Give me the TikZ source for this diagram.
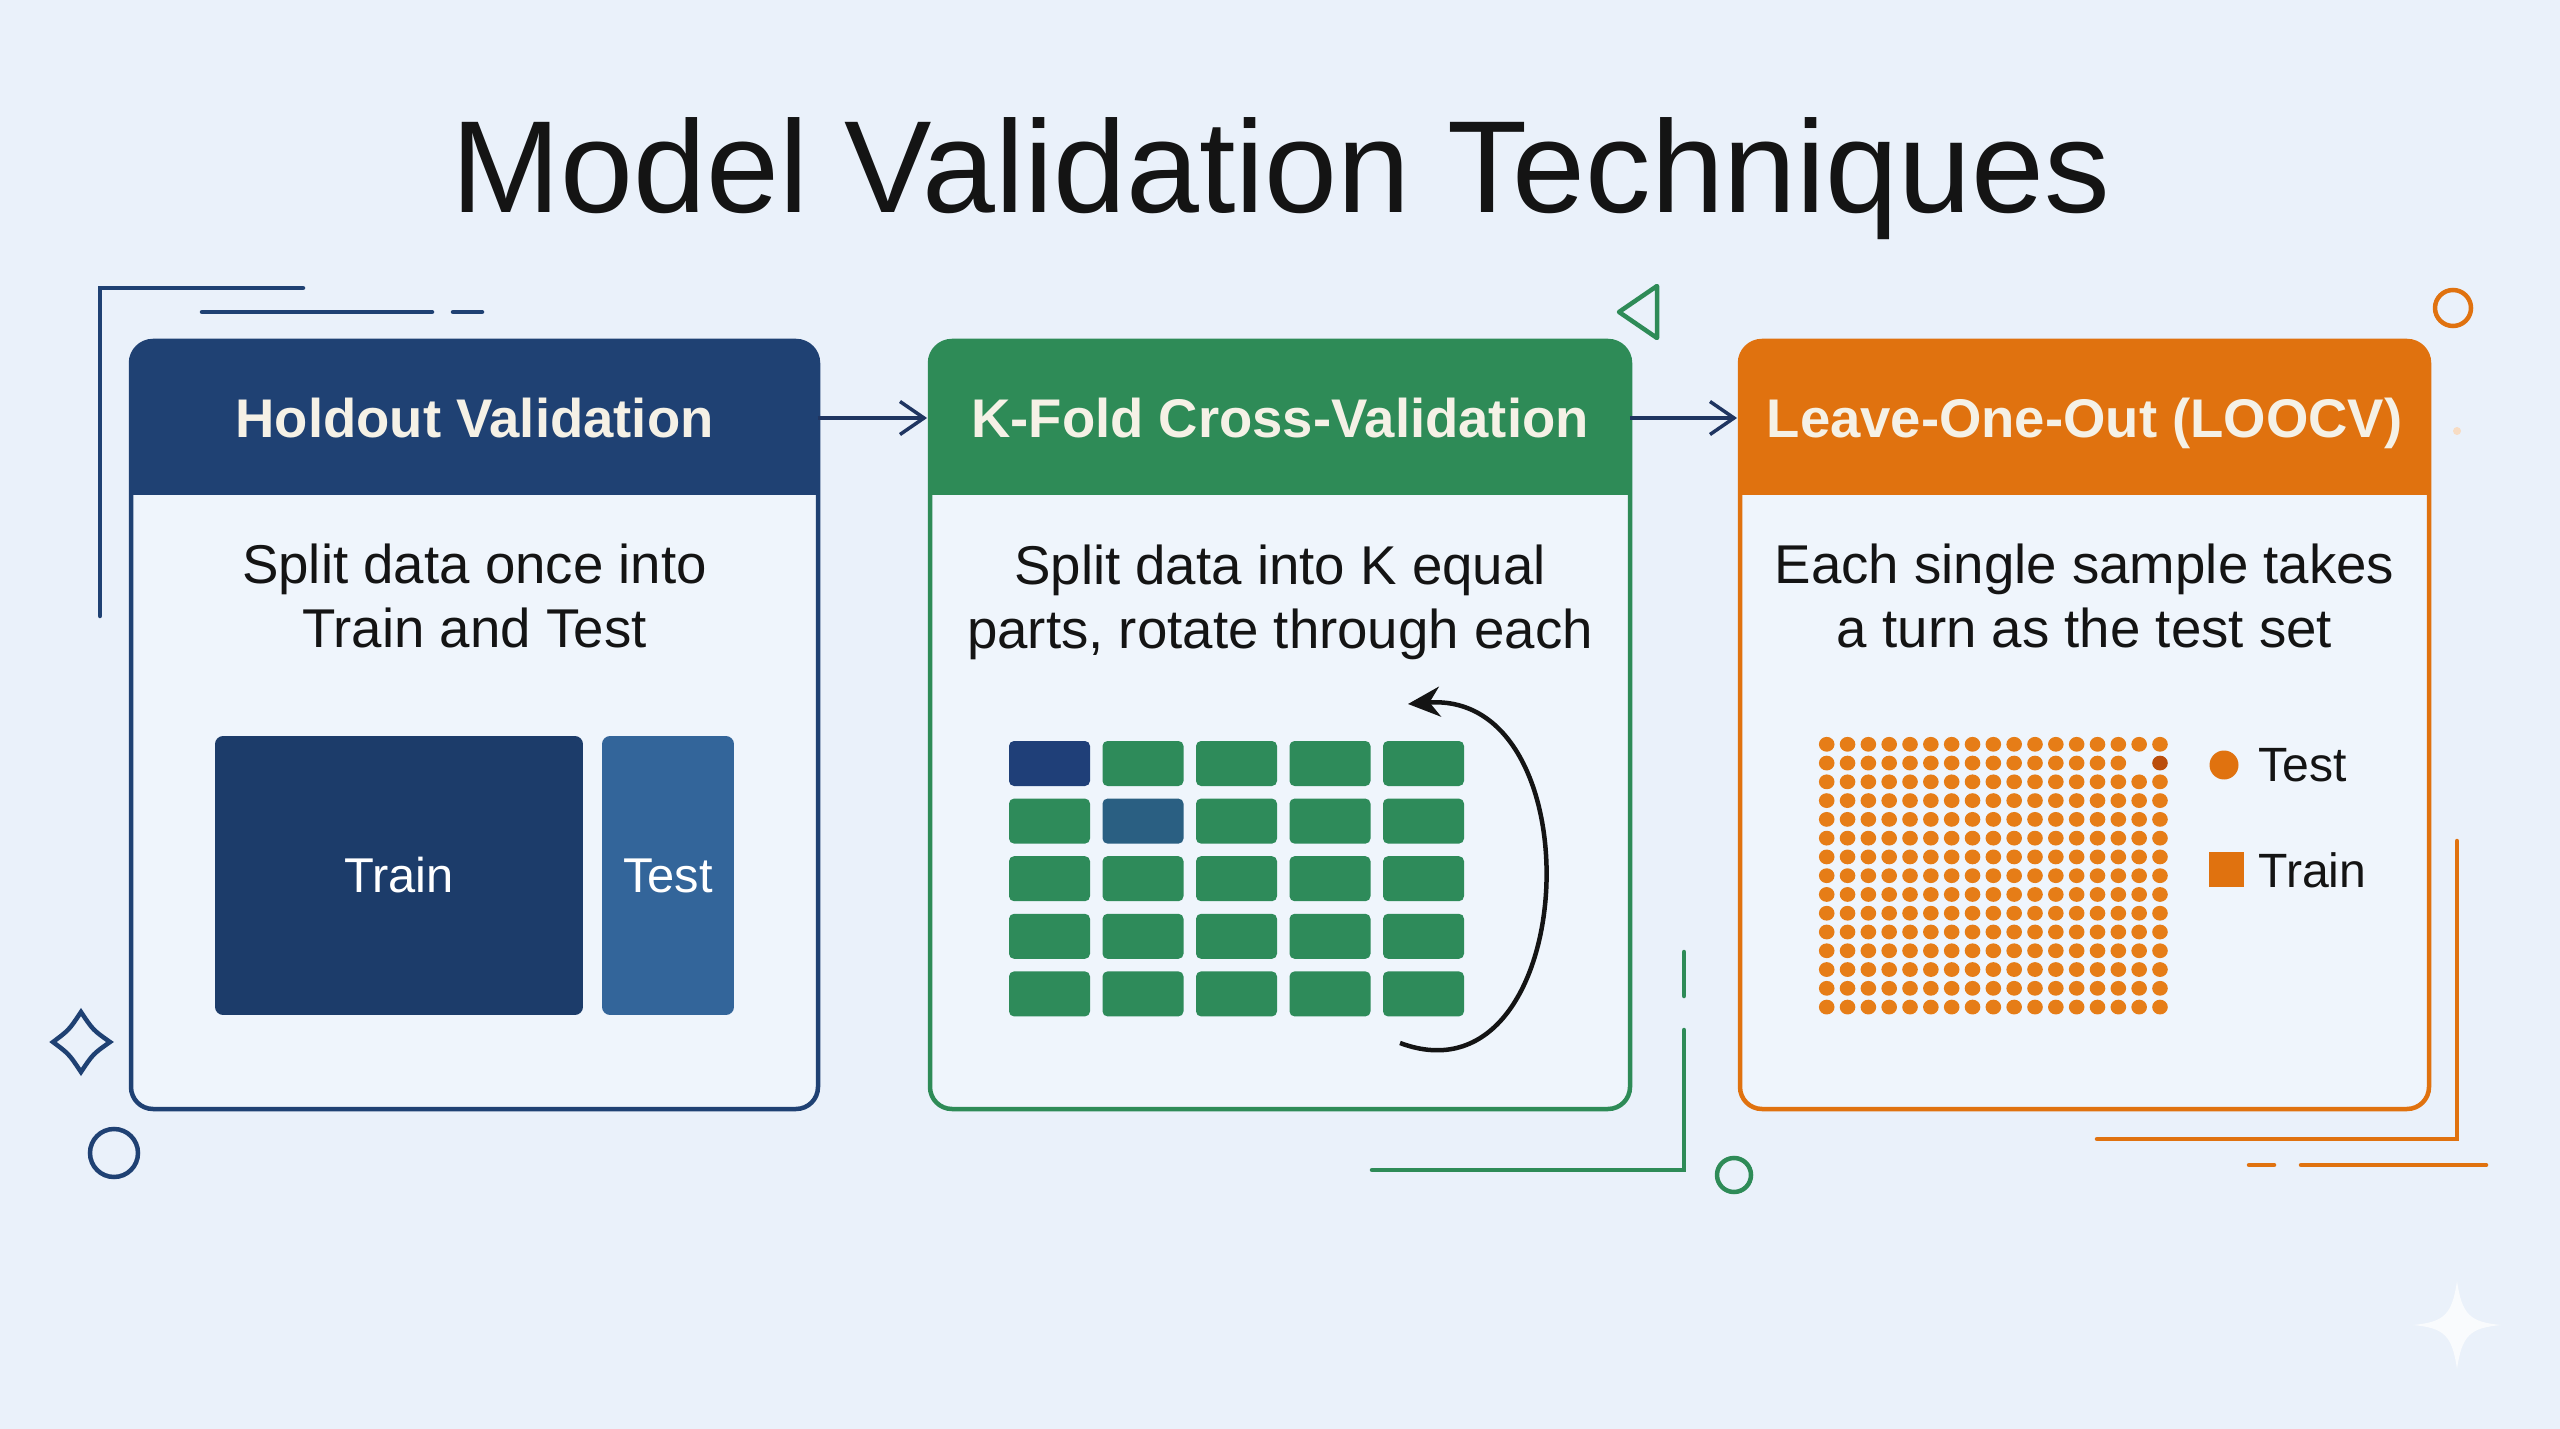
\documentclass[tikz,border=0pt]{standalone}
\usepackage{fontspec}
\setmainfont{Liberation Sans}
\usetikzlibrary{arrows.meta}
\definecolor{bg}{HTML}{EAF1FA}
\definecolor{paper}{HTML}{EFF5FC}
\definecolor{navy}{HTML}{1F4173}
\definecolor{trainblue}{HTML}{1C3C6A}
\definecolor{testblue}{HTML}{33659A}
\definecolor{kgreen}{HTML}{2E8B57}
\definecolor{cellgreen}{HTML}{2E8B5A}
\definecolor{foldnavy}{HTML}{1F3F78}
\definecolor{foldteal}{HTML}{2A5F82}
\definecolor{loorange}{HTML}{E0720F}
\definecolor{dotorange}{HTML}{E67D17}
\definecolor{dotdark}{HTML}{BA4D0C}
\definecolor{headtxt}{HTML}{F5F1E6}
\definecolor{ink}{HTML}{141414}
\definecolor{arrowc}{HTML}{1F3561}

\begin{document}
\begin{tikzpicture}[x=0.02cm, y=-0.02cm,
    headbar/.style={fill=#1, text=headtxt, inner sep=0, outer sep=0, minimum height=3.08cm,
      text height=0.78cm, text depth=0cm, font=\bfseries\fontsize{31}{36}\selectfont},
    bodytext/.style={text=ink, align=center, inner sep=0, font=\fontsize{31.1}{36.3}\selectfont},
    panelframe/.style={draw=#1, line width=0.09cm, rounded corners=0.44cm},
    blk/.style={rounded corners=0.16cm, text=white, inner sep=0, minimum height=5.58cm,
      font=\fontsize{27.8}{33}\selectfont},
    legtext/.style={anchor=west, inner sep=0, text=ink, font=\fontsize{27.4}{33}\selectfont},
    link/.style={draw=arrowc, line width=0.07cm, -{Straight Barb[length=0.48cm,width=0.66cm]}, shorten >=0.06cm},
    deco/.style={line width=0.09cm, line cap=round}]
    \fill[bg] (0,0) rectangle (2560,1429);
    \useasboundingbox (0,0) rectangle (2560,1429);

    \node[anchor=base, text=ink, font=\fontsize{74.6}{80}\selectfont] (title) at (1281,213) {Model Validation Techniques};

    \fill[paper, rounded corners=0.44cm] (131,341) rectangle (818,1109);
    \begin{scope}
        \clip[rounded corners=0.44cm] (131,341) rectangle (818,1109);
        \node[headbar=navy, minimum width=13.74cm] (hold) at (474.5,418) {Holdout Validation};
    \end{scope}
    \draw[panelframe=navy] (131,341) rectangle (818,1109);
    \node[bodytext] (holdtxt) at (474.5,596) {Split data once into\\Train and Test};
    \node[blk, fill=trainblue, minimum width=7.36cm] (train) at (399,875.5) {Train};
    \node[blk, fill=testblue, minimum width=2.64cm] (test) at (668,875.5) {Test};

    \fill[paper, rounded corners=0.44cm] (930,341) rectangle (1630,1109);
    \begin{scope}
        \clip[rounded corners=0.44cm] (930,341) rectangle (1630,1109);
        \node[headbar=kgreen, minimum width=14cm] (kfold) at (1280,418) {K-Fold Cross-Validation};
    \end{scope}
    \draw[panelframe=kgreen] (930,341) rectangle (1630,1109);
    \node[bodytext] (kfoldtxt) at (1280,602) {Split data into K equal\\parts, rotate through each};
    \foreach \r in {0,...,4}
        \foreach \c in {0,...,4} {
            \pgfmathtruncatemacro\k{\r*5+\c}
            \ifnum\k=0 \def\fc{foldnavy}\else\ifnum\k=6 \def\fc{foldteal}\else\def\fc{cellgreen}\fi\fi
            \fill[\fc, rounded corners=0.1cm] (1009+93.5*\c,741+57.6*\r) rectangle ++(81,45);
        }
    \draw[ink, line width=0.09cm, -{Stealth[length=0.64cm,width=0.6cm]}] (1400,1043) .. controls (1580,1110) and (1600,690) .. (1408,704);

    \fill[paper, rounded corners=0.44cm] (1740,341) rectangle (2429,1109);
    \begin{scope}
        \clip[rounded corners=0.44cm] (1740,341) rectangle (2429,1109);
        \node[headbar=loorange, minimum width=13.78cm] (loo) at (2084.5,418) {Leave-One-Out (LOOCV)};
    \end{scope}
    \draw[panelframe=loorange] (1740,341) rectangle (2429,1109);
    \node[bodytext] (lootxt) at (2084.5,596) {Each single sample takes\\a turn as the test set};
    \foreach \r in {0,...,14}
        \foreach \c in {0,...,16} {
            \pgfmathtruncatemacro\k{\r*17+\c}
            \ifnum\k=32 \else\ifnum\k=33 \else
                \fill[dotorange] (1826.7+20.83*\c,744.3+18.77*\r) ellipse [x radius=7.8, y radius=7.4];
            \fi\fi
        }
    \fill[dotdark] (1826.7+20.83*16,744.3+18.77) ellipse [x radius=7.8, y radius=7.4];
    \node[circle, fill=loorange, minimum size=0.58cm, inner sep=0] (legtest) at (2224,765) {};
    \node[legtext] (legtesttxt) at (2258,765) {Test};
    \node[fill=loorange, minimum size=0.7cm, inner sep=0] (legtrain) at (2226.5,869.5) {};
    \node[legtext] (legtraintxt) at (2258,870) {Train};

    \draw[link] (hold.east) -- (kfold.west);
    \draw[link] (kfold.east) -- (loo.west);

    \draw[deco, navy] (100,616) -- (100,288) -- (303,288);
    \draw[deco, navy] (202,312) -- (432,312);
    \draw[deco, navy] (453,312) -- (482,312);
    \draw[deco, navy, line join=miter] (81,1012) .. controls (93,1030) .. (110,1042) .. controls (93,1054) .. (81,1072)
        .. controls (69,1054) .. (53,1042) .. controls (69,1030) .. (81,1012) -- cycle;
    \draw[deco, navy] (114,1153) circle (24);
    \draw[deco, kgreen, line join=round] (1619,312) -- (1657,286) -- (1657,338) -- cycle;
    \draw[deco, kgreen] (1684,952) -- (1684,996);
    \draw[deco, kgreen] (1684,1030) -- (1684,1170) -- (1372,1170);
    \draw[deco, kgreen] (1734,1175) circle (17);
    \draw[deco, loorange] (2457,841) -- (2457,1139) -- (2097,1139);
    \draw[deco, loorange] (2249,1165) -- (2274,1165);
    \draw[deco, loorange] (2301,1165) -- (2486,1165);
    \draw[deco, loorange] (2453,308) circle (18);
    \fill[loorange!25] (2457,431) circle (4);
    \fill[white!70!bg] (2457,1281) .. controls (2462,1315) and (2470,1322) .. (2501,1325)
        .. controls (2470,1328) and (2462,1335) .. (2457,1369) .. controls (2452,1335) and (2444,1328) .. (2413,1325)
        .. controls (2444,1322) and (2452,1315) .. (2457,1281) -- cycle;
\end{tikzpicture}
\end{document}
